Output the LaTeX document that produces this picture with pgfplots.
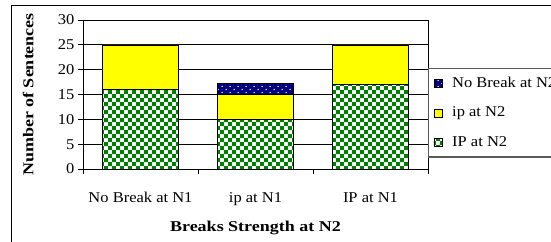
\documentclass[border=0pt]{standalone}
\usepackage{fontspec}
\setmainfont{Liberation Serif}[FakeStretch=1.1, BoldFeatures={FakeStretch=1.2}]
\usepackage{pgfplots}
\pgfplotsset{compat=1.18}
\usetikzlibrary{patterns}
\definecolor{chkgreen}{HTML}{008000}
\definecolor{ipyellow}{HTML}{FFFF00}
\definecolor{nbnavy}{HTML}{000080}
\pgfdeclarepatternformonly{bigcheck}{\pgfpointorigin}{\pgfqpoint{8.4pt}{8.4pt}}{\pgfqpoint{8.4pt}{8.4pt}}{%
  \pgfpathrectangle{\pgfpointorigin}{\pgfqpoint{4.2pt}{4.2pt}}%
  \pgfpathrectangle{\pgfqpoint{4.2pt}{4.2pt}}{\pgfqpoint{4.2pt}{4.2pt}}%
  \pgfusepath{fill}}
\pgfdeclarepatternformonly{mydots}{\pgfqpoint{-1pt}{-1pt}}{\pgfqpoint{9pt}{7pt}}{\pgfqpoint{8pt}{6pt}}{%
  \pgfpathcircle{\pgfqpoint{2pt}{1.5pt}}{0.75pt}%
  \pgfpathcircle{\pgfqpoint{6pt}{4.5pt}}{0.75pt}%
  \pgfusepath{fill}}
\begin{document}
\begin{tikzpicture}[x=1pt,y=1pt]
\begin{axis}[
  at={(0,0)}, anchor=south west,
  scale only axis, width=345pt, height=149pt,
  xmin=0.5, xmax=3.5, ymin=0, ymax=30,
  ytick={0,5,...,30},
  ymajorgrids, grid style={black, line width=0.8pt},
  xtick={1,2,3},
  xticklabels={No Break at N1, ip at N1, IP at N1},
  minor xtick={0.5,1.5,2.5,3.5},
  every major x tick/.append style={draw=none},
  tick align=outside, major tick length=5pt, minor tick length=5pt,
  xtick pos=bottom, ytick pos=left,
  axis line style={black, line width=0.8pt},
  tick style={black, line width=0.8pt},
  tick label style={font=\fontsize{15}{17}\selectfont},
  /pgf/number format/assume math mode=true,
  x tick label style={yshift=-15pt},
  ybar stacked, bar width=0.66,
  xlabel={\textbf{Breaks Strength at N2}},
  ylabel={\textbf{Number of Sentences}},
  xlabel style={font=\fontsize{15}{17}\selectfont, at={(axis description cs:0.5,-0.396)}, anchor=center},
  ylabel style={font=\fontsize{15}{17}\selectfont, at={(axis description cs:-0.159,0.5)}, anchor=center, rotate=0},
  legend style={at={(1,0.678)}, anchor=north west, draw=gray!70!black, line width=1.2pt,
    font=\fontsize{15}{17}\selectfont, inner xsep=5pt, inner ysep=8pt,
    nodes={inner sep=0pt, text height=10.5pt, text depth=3pt},
    row sep=16pt,
    /tikz/every odd column/.append style={column sep=10pt}},
  legend cell align=left,
  reverse legend,
  legend image code/.code={\draw[#1, line width=0.6pt] (0pt,-4pt) rectangle (8pt,4pt);},
]
\addplot[fill=white, draw=black, line width=0.6pt, postaction={pattern=bigcheck, pattern color=chkgreen}]
  coordinates {(1,16) (2,10) (3,17)};
\addlegendentry{IP at N2}
\addplot[fill=ipyellow, draw=black, line width=0.6pt]
  coordinates {(1,9) (2,5) (3,8)};
\addlegendentry{ip at N2}
\addplot[fill=nbnavy, draw=black, line width=0.6pt, postaction={pattern=mydots, pattern color=white}]
  coordinates {(1,0) (2,2.3) (3,0)};
\addlegendentry{No Break at N2}
\end{axis}
\pgfresetboundingbox
\path[use as bounding box] (-83,-72) rectangle (468,169);
\draw[line width=0.8pt] (-72,-90) -- (-72,164) -- (490,164);
\end{tikzpicture}
\end{document}
